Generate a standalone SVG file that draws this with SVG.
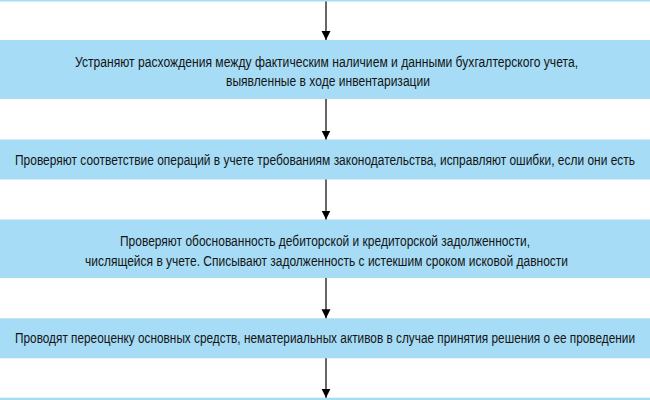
<svg xmlns="http://www.w3.org/2000/svg" width="650" height="400" viewBox="0 0 650 400">
<style>
.box{fill:#a6dcf6}
.t{font-family:"Liberation Sans",Arial,sans-serif;font-size:15px;fill:#141414;text-anchor:middle}
.c{stroke:#000;stroke-width:1.2;fill:none}
</style>
<defs>
<marker id="ah" markerUnits="userSpaceOnUse" markerWidth="10" markerHeight="12" refX="9" refY="5" orient="auto" viewBox="0 0 10 10">
<path d="M0,0.5 L9,5 L0,9.5 Z" fill="#000"/>
</marker>
</defs>
<rect width="650" height="400" fill="#fff"/>
<g id="node0"><rect class="box" x="0" y="-10" width="650" height="11.5"/></g>
<g id="node1">
<rect class="box" x="0" y="40" width="650" height="59"/>
<text class="t" transform="translate(326.5,66.5) scale(0.75,1)" x="0" y="0" textLength="670.7" lengthAdjust="spacingAndGlyphs">Устраняют расхождения между фактическим наличием и данными бухгалтерского учета,</text>
<text class="t" transform="translate(328,86) scale(0.75,1)" x="0" y="0" textLength="272" lengthAdjust="spacingAndGlyphs">выявленные в ходе инвентаризации</text>
</g>
<g id="node2">
<rect class="box" x="0" y="139.5" width="650" height="40"/>
<text class="t" transform="translate(325,164.5) scale(0.75,1)" x="0" y="0" textLength="826.7" lengthAdjust="spacingAndGlyphs">Проверяют соответствие операций в учете требованиям законодательства, исправляют ошибки, если они есть</text>
</g>
<g id="node3">
<rect class="box" x="0" y="219.5" width="650" height="58.5"/>
<text class="t" transform="translate(325,246) scale(0.75,1)" x="0" y="0" textLength="546.7" lengthAdjust="spacingAndGlyphs">Проверяют обоснованность дебиторской и кредиторской задолженности,</text>
<text class="t" transform="translate(326.5,266) scale(0.75,1)" x="0" y="0" textLength="644" lengthAdjust="spacingAndGlyphs">числящейся в учете. Списывают задолженность с истекшим сроком исковой давности</text>
</g>
<g id="node4">
<rect class="box" x="0" y="318.3" width="650" height="40"/>
<text class="t" transform="translate(325,343) scale(0.75,1)" x="0" y="0" textLength="826.7" lengthAdjust="spacingAndGlyphs">Проводят переоценку основных средств, нематериальных активов в случае принятия решения о ее проведении</text>
</g>
<g id="node5"><rect class="box" x="0" y="397.7" width="650" height="10"/></g>
<g id="connectors">
<line class="c" x1="326" y1="1.5" x2="326" y2="40" marker-end="url(#ah)"/>
<line class="c" x1="326" y1="99" x2="326" y2="139.5" marker-end="url(#ah)"/>
<line class="c" x1="326" y1="179.5" x2="326" y2="219.5" marker-end="url(#ah)"/>
<line class="c" x1="326" y1="278" x2="326" y2="318.3" marker-end="url(#ah)"/>
<line class="c" x1="326" y1="358.3" x2="326" y2="397.7" marker-end="url(#ah)"/>
</g>
</svg>
